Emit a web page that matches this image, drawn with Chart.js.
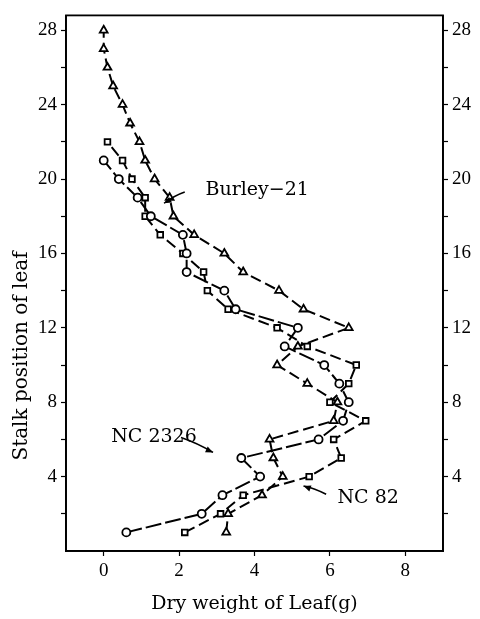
<!DOCTYPE html>
<html>
<head>
<meta charset="utf-8">
<script src="https://cdn.jsdelivr.net/npm/chart.js@4"></script>
<style>
  html, body { margin: 0; padding: 0; background: #fff; }
  #wrap { width: 480px; height: 619px; }
</style>
</head>
<body>
<div id="wrap"><canvas id="myChart" width="480" height="619"></canvas></div>
<script>
// stalk positions (leaf number from bottom)
var burleyPos = [1,2,3,4,5,6,7,8,9,10,11,12,13,14,15,16,17,18,19,20,21,22,23,24,25,26,27,28];
var burleyWeight = [3.25,3.3,4.2,4.75,4.5,4.4,6.1,6.2,5.4,4.6,5.15,6.5,5.3,4.65,3.7,3.2,2.4,1.85,1.75,1.35,1.1,0.95,0.7,0.5,0.25,0.1,0.0,0.0];

var nc2326Pos = [1,2,3,4,5,6,7,8,9,10,11,12,13,14,15,16,17,18,19,20,21];
var nc2326Weight = [0.6,2.6,3.15,4.15,3.65,5.7,6.35,6.5,6.25,5.85,4.8,5.15,3.5,3.2,2.2,2.2,2.1,1.25,0.9,0.4,0.0];

var nc82Pos = [1,2,3,4,5,6,7,8,9,10,11,12,13,14,15,16,17,18,19,20,21,22];
var nc82Weight = [2.15,3.1,3.7,5.45,6.3,6.1,6.95,6.0,6.5,6.7,5.4,4.6,3.3,2.75,2.65,2.1,1.5,1.1,1.1,0.75,0.5,0.1];

var xTicks = [0, 2, 4, 6, 8];
var yTicks = [2, 4, 6, 8, 10, 12, 14, 16, 18, 20, 22, 24, 26, 28];

function toPoints(xs, ys) {
  return xs.map(function (v, i) { return { x: v, y: ys[i] }; });
}

var TICK_FONT = { family: 'Liberation Serif', size: 19 };
var TEXT_FONT = '19px "DejaVu Serif"';

// frame on top, y title, labels with arrows
var extras = {
  id: 'extras',
  afterDatasetsDraw: function (chart) {
    var c = chart.ctx, a = chart.chartArea;
    var sx = chart.scales.x, sy = chart.scales.y;
    c.save();
    c.strokeStyle = '#000';
    c.lineWidth = 1.8;
    c.strokeRect(a.left, a.top, a.right - a.left, a.bottom - a.top);

    c.fillStyle = '#000';
    // y axis title, sits a bit below the middle like the original
    c.save();
    c.translate(22, 356);
    c.rotate(-Math.PI / 2);
    c.font = '20px "DejaVu Serif"';
    c.textAlign = 'center';
    c.textBaseline = 'middle';
    c.fillText('Stalk position of leaf', 0, 0);
    c.restore();

    c.font = TEXT_FONT;
    c.textBaseline = 'middle';
    c.textAlign = 'left';
    c.fillText('Burley\u221221', sx.getPixelForValue(2.7), sy.getPixelForValue(19.4));
    c.fillText('NC 2326', sx.getPixelForValue(0.2), sy.getPixelForValue(6.15));
    c.fillText('NC 82', sx.getPixelForValue(6.2), sy.getPixelForValue(2.85));

    function arrow(x1, y1, x2, y2) {
      var px1 = sx.getPixelForValue(x1), py1 = sy.getPixelForValue(y1);
      var px2 = sx.getPixelForValue(x2), py2 = sy.getPixelForValue(y2);
      c.lineWidth = 1.5;
      c.beginPath();
      c.moveTo(px1, py1);
      c.quadraticCurveTo((px1 + px2) / 2, (py1 + py2) / 2 - 2, px2, py2);
      c.stroke();
      var ang = Math.atan2(py2 - py1, px2 - px1);
      c.beginPath();
      c.moveTo(px2, py2);
      c.lineTo(px2 - 8 * Math.cos(ang - 0.4), py2 - 8 * Math.sin(ang - 0.4));
      c.lineTo(px2 - 8 * Math.cos(ang + 0.4), py2 - 8 * Math.sin(ang + 0.4));
      c.closePath();
      c.fill();
    }
    arrow(2.15, 19.3, 1.6, 18.7);
    arrow(2.05, 6.1, 2.9, 5.3);
    arrow(5.9, 3.05, 5.3, 3.5);
    c.restore();
  }
};

function yAxis(pos, width) {
  return {
    type: 'linear',
    position: pos,
    min: 0,
    max: 28.8,
    afterBuildTicks: function (s) { s.ticks = yTicks.map(function (v) { return { value: v }; }); },
    afterFit: function (s) { s.width = width; },
    ticks: {
      color: '#000',
      font: TICK_FONT,
      padding: 4,
      callback: function (v) { return v % 4 === 0 ? v : ''; }
    },
    grid: { drawOnChartArea: false, color: '#000', tickLength: 5, tickWidth: 1.2 },
    border: { display: true, color: '#000', width: 1.8 }
  };
}

var ctx = document.getElementById('myChart').getContext('2d');
var chart = new Chart(ctx, {
  type: 'scatter',
  data: {
    datasets: [
      {
        label: 'Burley-21',
        data: toPoints(burleyWeight, burleyPos),
        showLine: true,
        borderColor: '#000',
        borderWidth: 2,
        borderDash: [11, 5],
        pointStyle: 'triangle',
        pointRadius: 4.5,
        pointBorderWidth: 1.8,
        pointBorderColor: '#000',
        pointBackgroundColor: '#fff'
      },
      {
        label: 'NC 2326',
        data: toPoints(nc2326Weight, nc2326Pos),
        showLine: true,
        borderColor: '#000',
        borderWidth: 2,
        borderDash: [16, 4],
        pointStyle: 'circle',
        pointRadius: 4,
        pointBorderWidth: 1.8,
        pointBorderColor: '#000',
        pointBackgroundColor: '#fff'
      },
      {
        label: 'NC 82',
        data: toPoints(nc82Weight, nc82Pos),
        showLine: true,
        borderColor: '#000',
        borderWidth: 2,
        borderDash: [11, 5],
        pointStyle: 'rect',
        pointRadius: 4,
        pointBorderWidth: 1.8,
        pointBorderColor: '#000',
        pointBackgroundColor: '#fff'
      }
    ]
  },
  options: {
    responsive: false,
    animation: false,
    layout: { padding: { top: 13, bottom: 0, left: 0, right: 0 } },
    plugins: { legend: { display: false }, tooltip: { enabled: false } },
    scales: {
      x: {
        type: 'linear',
        position: 'bottom',
        min: -1,
        max: 9,
        afterBuildTicks: function (s) { s.ticks = xTicks.map(function (v) { return { value: v }; }); },
        afterFit: function (s) { s.height = 68; },
        title: {
          display: true,
          text: 'Dry weight of Leaf(g)',
          color: '#000',
          font: { family: 'DejaVu Serif', size: 19 },
          padding: { top: 2, bottom: 4 }
        },
        ticks: { color: '#000', font: TICK_FONT, padding: 4 },
        grid: { drawOnChartArea: false, color: '#000', tickLength: 5, tickWidth: 1.2 },
        border: { display: true, color: '#000', width: 1.8 }
      },
      y: yAxis('left', 66),
      y2: yAxis('right', 37)
    }
  },
  plugins: [extras]
});
</script>
</body>
</html>
